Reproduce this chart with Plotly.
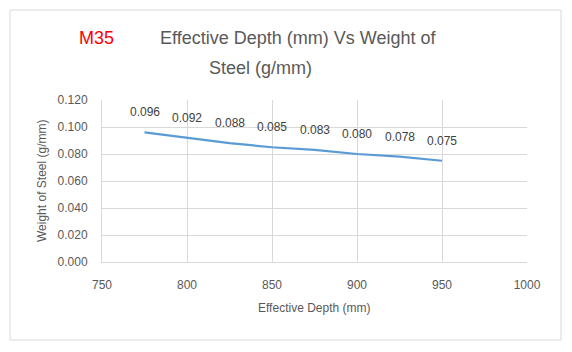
import plotly.graph_objects as go

depth = [775, 800, 825, 850, 875, 900, 925, 950]
weight = [0.096, 0.092, 0.088, 0.085, 0.083, 0.080, 0.078, 0.075]
x_ticks = [750, 800, 850, 900, 950, 1000]
y_ticks = [0.0, 0.02, 0.04, 0.06, 0.08, 0.10, 0.12]

W, H = 572, 352
L, R, T, B = 102, 527, 100, 262

def px(x):
    return (x - L) / (R - L)

def py(y):
    return (B - y) / (B - T)

font = "Liberation Sans"
gray = "#595959"

fig = go.Figure()
fig.add_trace(go.Scatter(
    x=depth, y=weight, mode="lines",
    line=dict(color="#5B9BD5", width=2.25),
    hoverinfo="skip", showlegend=False,
))

for xv, yv in zip(depth, weight):
    fig.add_annotation(x=xv, y=yv, text=f"{yv:.3f}", showarrow=False,
                       yshift=20, xanchor="center", yanchor="middle",
                       font=dict(family=font, size=12, color="#404040"))

fig.add_annotation(xref="paper", yref="paper", x=px(96), y=py(38), text="M35",
                   xanchor="center", yanchor="middle",
                   showarrow=False, font=dict(family=font, size=18, color="#FF0000"))
fig.add_annotation(xref="paper", yref="paper", x=px(298), y=py(38),
                   text="Effective Depth (mm) Vs Weight of", showarrow=False,
                   xanchor="center", yanchor="middle",
                   font=dict(family=font, size=18, color=gray))
fig.add_annotation(xref="paper", yref="paper", x=px(260), y=py(68),
                   text="Steel (g/mm)", showarrow=False,
                   xanchor="center", yanchor="middle",
                   font=dict(family=font, size=18, color=gray))
fig.add_annotation(xref="paper", yref="paper", x=px(314), y=py(308),
                   text="Effective Depth (mm)", showarrow=False,
                   xanchor="center", yanchor="middle",
                   font=dict(family=font, size=12, color=gray))
fig.add_annotation(xref="paper", yref="paper", x=px(42), y=py(181),
                   text="Weight of Steel (g/mm)", showarrow=False, textangle=-90,
                   xanchor="center", yanchor="middle",
                   font=dict(family=font, size=12, color=gray))

fig.add_shape(type="rect", xref="paper", yref="paper",
              x0=px(10), x1=px(561), y0=py(340), y1=py(10),
              line=dict(color="#D9D9D9", width=1), layer="below")

fig.update_layout(
    width=W, height=H,
    margin=dict(l=L, r=W - R, t=T, b=H - B),
    paper_bgcolor="white", plot_bgcolor="white",
    font=dict(family=font, size=12, color=gray),
)
fig.update_xaxes(range=[750, 1000], tickvals=x_ticks, ticktext=[str(v) for v in x_ticks],
                 showgrid=True, gridcolor="#D9D9D9", gridwidth=1,
                 showline=True, linecolor="#D9D9D9", zeroline=False,
                 ticks="outside", ticklen=12, tickcolor="rgba(0,0,0,0)",
                 tickfont=dict(size=12, color=gray))
fig.update_yaxes(range=[0, 0.12], tickvals=y_ticks, ticktext=[f"{v:.3f}" for v in y_ticks],
                 showgrid=True, gridcolor="#D9D9D9", gridwidth=1,
                 showline=True, linecolor="#D9D9D9", zeroline=False,
                 ticks="outside", ticklen=11, tickcolor="rgba(0,0,0,0)",
                 tickfont=dict(size=12, color=gray))

fig.write_html("out.html",
               config={"displayModeBar": False},
               post_script="document.body.style.margin='0';document.body.style.overflow='hidden';document.documentElement.style.overflow='hidden';")
